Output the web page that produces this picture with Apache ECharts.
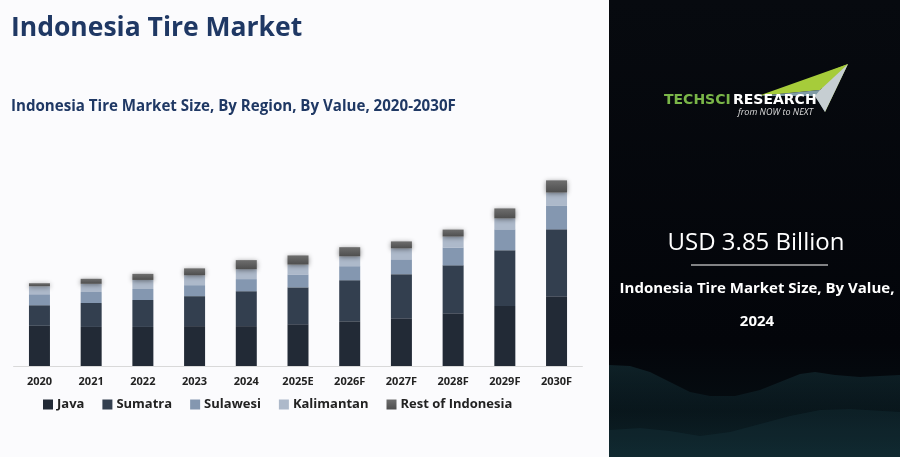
<!DOCTYPE html>
<html><head><meta charset="utf-8">
<script src="https://cdn.jsdelivr.net/npm/echarts@6/dist/echarts.min.js"></script>
<style>html,body{margin:0;padding:0;background:#fbfbfd;}#c{width:900px;height:457px;}</style>
</head><body><div id="c"></div>
<script>
const categories = ['2020','2021','2022','2023','2024','2025E','2026F','2027F','2028F','2029F','2030F'];
const java       = [1.46,1.42,1.42,1.45,1.45,1.52,1.63,1.74,1.92,2.18,2.54];
const sumatra    = [0.75,0.87,0.98,1.09,1.27,1.34,1.49,1.60,1.74,2.03,2.43];
const sulawesi   = [0.40,0.40,0.40,0.40,0.44,0.47,0.51,0.54,0.65,0.76,0.87];
const kalimantan = [0.29,0.30,0.33,0.36,0.36,0.36,0.36,0.40,0.40,0.40,0.47];
const restOfIndonesia = [0.11,0.18,0.22,0.25,0.33,0.33,0.33,0.25,0.25,0.36,0.44];

const chart = echarts.init(document.getElementById('c'));
const font = 'Open Sans';
function seg(name, data, color, extra) {
  return Object.assign({
    name, type: 'bar', stack: 'total', data, barWidth: 21,
    itemStyle: { color }, emphasis: { disabled: true }
  }, extra || {});
}
chart.setOption({
  animation: false,
  backgroundColor: '#fbfbfd',
  textStyle: { fontFamily: font },
  grid: { left: 13.6, right: 900 - 582.4, top: 146, bottom: 457 - 366, containLabel: false },
  xAxis: {
    type: 'category', data: categories,
    axisLine: { lineStyle: { color: '#d9d9d9', width: 1 } },
    axisTick: { show: false },
    axisLabel: { color: '#222', fontWeight: 'bold', fontSize: 11, margin: 10, fontFamily: font }
  },
  yAxis: { type: 'value', min: 0, max: 8, show: false, splitLine: { show: false } },
  legend: {
    left: 38, top: 393, itemWidth: 10, itemHeight: 10, itemGap: 18,
    icon: 'rect',
    textStyle: { color: '#222', fontWeight: 'bold', fontSize: 13, fontFamily: font, padding: [0,0,0,-1] },
    data: ['Java','Sumatra','Sulawesi','Kalimantan','Rest of Indonesia']
  },
  series: [
    seg('Java', java, '#222a36'),
    seg('Sumatra', sumatra, '#333f4f'),
    seg('Sulawesi', sulawesi, '#8497b0'),
    seg('Kalimantan', kalimantan, '#adb9ca'),
    seg('Rest of Indonesia', restOfIndonesia, '#5f5f5f', {
      itemStyle: {
        color: new echarts.graphic.LinearGradient(0,0,0,1,[{offset:0,color:'#6e6e6e'},{offset:1,color:'#4e4e4e'}]),
        shadowBlur: 5, shadowColor: 'rgba(0,0,0,0.45)', shadowOffsetY: 1
      }
    })
  ],
  graphic: [
    { type: 'text', left: 11, top: 15, style: { text: 'Indonesia Tire Market', fill: '#1f3864', font: 'bold 26.5px "Open Sans"' } },
    { type: 'text', left: 11, top: 99, style: { text: 'Indonesia Tire Market Size, By Region, By Value, 2020-2030F', fill: '#1f3864', font: 'bold 15.1px "Open Sans"' } },
    // right panel
    { type: 'rect', shape: { x: 609, y: 0, width: 291, height: 457 }, style: {
        fill: new echarts.graphic.LinearGradient(0,0,0,1,[{offset:0,color:'#070a0f'},{offset:0.75,color:'#03050a'},{offset:1,color:'#071216'}]) } },
    { type: 'polygon', shape: { points: [[609,457],[609,365],[630,366],[650,372],[670,382],[690,392],[710,396],[735,396],[760,390],[780,382],[800,374],[815,372],[835,375],[860,377],[900,375],[900,457]] },
      style: { fill: new echarts.graphic.LinearGradient(0,0,0,1,[{offset:0,color:'rgba(30,70,78,0.4)'},{offset:0.5,color:'rgba(15,40,48,0.35)'},{offset:1,color:'rgba(20,50,58,0.5)'}]) } },
    { type: 'polygon', shape: { points: [[609,457],[609,430],[640,428],[670,431],[700,436],[730,432],[760,424],[790,416],[820,410],[850,409],[900,412],[900,457]] },
      style: { fill: 'rgba(35,80,88,0.18)' } },
    // logo triangles
    { type: 'polygon', shape: { points: [[820,75],[848,64],[825,112]] }, style: { fill: '#9bbd3a' } },
    { type: 'polygon', shape: { points: [[758,96],[848,64],[820,90]] }, style: { fill: '#a6cc3a' } },
    { type: 'polygon', shape: { points: [[758,96],[820,90],[825,112],[815,96]] }, style: { fill: '#7f9aa6' } },
    { type: 'polygon', shape: { points: [[815,96],[820,90],[848,64],[825,112]] }, style: { fill: '#c6ced2' } },
    { type: 'text', left: 664, top: 93, style: { text: 'TECHSCI', fill: '#7ab648', font: 'bold 14px "DejaVu Sans"' } },
    { type: 'text', left: 733, top: 93, style: { text: 'RESEARCH', fill: '#ffffff', font: 'bold 14px "DejaVu Sans"' } },
    { type: 'text', left: 738, top: 108, style: { text: 'from NOW to NEXT', fill: '#dddddd', font: 'italic 9px "Open Sans"' } },
    { type: 'text', x: 756, y: 243, style: { text: 'USD 3.85 Billion', fill: '#ffffff', font: '24px "Open Sans"', align: 'center', verticalAlign: 'middle' } },
    { type: 'line', shape: { x1: 691, y1: 265, x2: 828, y2: 265 }, style: { stroke: '#ffffff', lineWidth: 1 } },
    { type: 'text', x: 757, y: 289, style: { text: 'Indonesia Tire Market Size, By Value,', fill: '#ffffff', font: 'bold 15px "Open Sans"', align: 'center', verticalAlign: 'middle' } },
    { type: 'text', x: 757, y: 322, style: { text: '2024', fill: '#ffffff', font: 'bold 15px "Open Sans"', align: 'center', verticalAlign: 'middle' } }
  ]
});
</script></body></html>
